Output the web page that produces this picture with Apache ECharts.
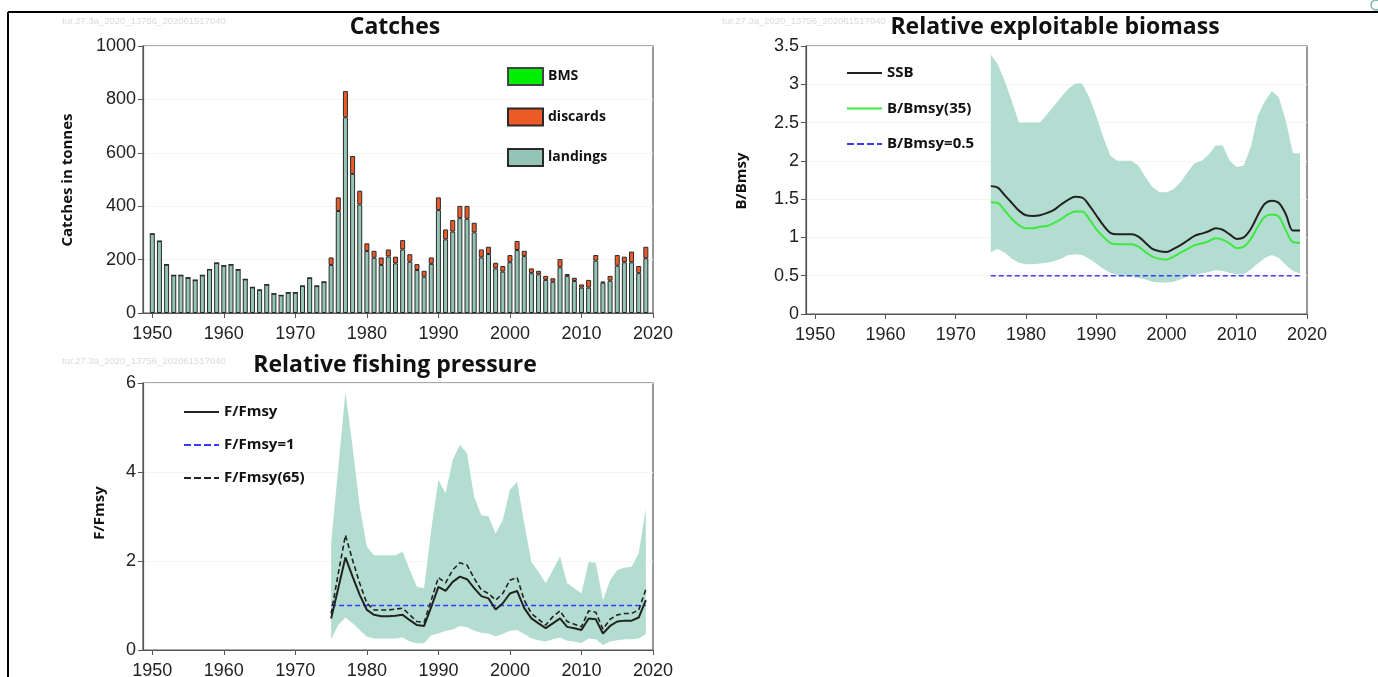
<!DOCTYPE html>
<html><head><meta charset="utf-8">
<script src="https://cdn.jsdelivr.net/npm/echarts@6/dist/echarts.min.js"></script>
<style>html,body{margin:0;padding:0;background:#fff}#c{width:1378px;height:677px}</style>
</head><body><div id="c"></div>
<script>
// ---------- DATA ----------
const catchYears = [1950,1951,1952,1953,1954,1955,1956,1957,1958,1959,1960,1961,1962,1963,1964,1965,1966,1967,1968,1969,
  1970,1971,1972,1973,1974,1975,1976,1977,1978,1979,1980,1981,1982,1983,1984,1985,1986,1987,1988,1989,
  1990,1991,1992,1993,1994,1995,1996,1997,1998,1999,2000,2001,2002,2003,2004,2005,2006,2007,2008,2009,
  2010,2011,2012,2013,2014,2015,2016,2017,2018,2019];
const landings = [296,269,181,141,141,132,123,141,163,187,177,181,162,126,96,86,106,72,66,76,
  76,101,131,101,116,180,382,733,521,406,232,207,180,212,186,238,192,161,136,184,
  386,276,305,355,353,302,208,221,167,155,190,236,213,149,145,124,117,171,139,120,
  95,95,196,114,121,177,190,190,149,205];
const discards = [0,0,0,0,0,0,0,0,0,0,0,0,0,0,0,0,0,0,0,0,
  0,0,0,0,0,28,51,98,67,52,29,26,28,26,25,35,28,22,22,24,
  47,37,43,46,48,36,30,27,21,21,27,34,20,18,13,15,13,31,7,12,
  12,29,21,3,18,40,21,40,27,43];
const bms = [];

const stockYears = [1975,1976,1977,1978,1979,1980,1981,1982,1983,1984,1985,1986,1987,1988,1989,
  1990,1991,1992,1993,1994,1995,1996,1997,1998,1999,2000,2001,2002,2003,2004,
  2005,2006,2007,2008,2009,2010,2011,2012,2013,2014,2015,2016,2017,2018,2019];
const ssb = [1.67,1.65,1.55,1.45,1.35,1.29,1.28,1.29,1.32,1.36,1.43,1.49,1.53,1.52,1.42,
  1.29,1.16,1.06,1.04,1.04,1.04,1.01,0.93,0.85,0.82,0.81,0.85,0.90,0.96,1.02,
  1.05,1.08,1.12,1.10,1.04,0.98,1.00,1.11,1.29,1.44,1.48,1.45,1.30,1.09,1.09];
const bBmsy35 = [1.46,1.45,1.35,1.24,1.16,1.12,1.12,1.14,1.15,1.19,1.24,1.30,1.34,1.34,1.24,
  1.11,1.01,0.93,0.91,0.91,0.91,0.88,0.81,0.75,0.72,0.71,0.75,0.80,0.85,0.90,
  0.92,0.95,0.99,0.97,0.92,0.86,0.88,0.98,1.14,1.27,1.30,1.27,1.09,0.94,0.93];
const bUpper = [3.39,3.26,3.04,2.78,2.50,2.50,2.50,2.50,2.61,2.72,2.83,2.94,3.01,3.01,2.83,
  2.59,2.31,2.07,2.00,2.00,2.00,1.94,1.79,1.66,1.59,1.59,1.63,1.72,1.85,1.97,
  2.00,2.08,2.20,2.20,2.00,1.92,1.94,2.18,2.59,2.78,2.91,2.83,2.52,2.10,2.10];
const bLower = [0.81,0.85,0.80,0.72,0.67,0.65,0.65,0.66,0.67,0.69,0.72,0.77,0.78,0.77,0.72,
  0.66,0.59,0.54,0.51,0.49,0.49,0.47,0.45,0.42,0.41,0.41,0.42,0.45,0.49,0.51,
  0.53,0.55,0.57,0.56,0.54,0.52,0.52,0.58,0.66,0.73,0.77,0.73,0.64,0.56,0.53];
const bRef = 0.5;

const fFmsy = [0.71,1.39,2.08,1.65,1.24,0.90,0.79,0.76,0.76,0.77,0.79,0.67,0.56,0.54,0.97,
  1.42,1.33,1.53,1.65,1.59,1.39,1.21,1.16,0.91,1.05,1.27,1.33,0.94,0.71,0.60,
  0.49,0.60,0.71,0.52,0.49,0.45,0.71,0.69,0.37,0.54,0.64,0.66,0.66,0.73,1.12];
const fFmsy65 = [0.82,1.72,2.58,2.02,1.50,1.05,0.90,0.90,0.90,0.92,0.94,0.79,0.64,0.62,1.12,
  1.63,1.51,1.80,1.96,1.91,1.61,1.35,1.27,1.12,1.27,1.57,1.63,1.12,0.82,0.69,
  0.56,0.75,0.88,0.64,0.58,0.52,0.88,0.85,0.47,0.69,0.79,0.82,0.82,0.90,1.36];
const fUpper = [2.40,4.10,5.80,4.57,3.22,2.32,2.13,2.13,2.13,2.13,2.21,1.80,1.42,1.39,2.70,
  3.82,3.52,4.27,4.61,4.42,3.44,3.03,3.00,2.62,2.92,3.60,3.78,2.85,1.98,1.76,
  1.50,1.80,2.10,1.50,1.39,1.27,1.98,1.96,1.12,1.57,1.80,1.85,1.87,2.17,3.18];
const fLower = [0.24,0.56,0.73,0.60,0.45,0.30,0.26,0.26,0.26,0.26,0.28,0.19,0.15,0.15,0.33,
  0.37,0.43,0.46,0.54,0.51,0.43,0.39,0.37,0.31,0.36,0.43,0.45,0.36,0.26,0.22,
  0.19,0.24,0.28,0.21,0.19,0.16,0.26,0.24,0.11,0.19,0.22,0.24,0.24,0.26,0.36];
const fRef = 1;

const xTicks = [1950,1960,1970,1980,1990,2000,2010,2020];
const watermark = 'tur.27.3a_2020_13756_202061517040';

// ---------- HELPERS ----------
// rows are [value, year] with encode {x:1, y:0} so that stacking happens on the value (y) dimension
const rowsYX = (xs, ys) => xs.map((x, i) => [ys[i], x]);
const ENC = { x: 1, y: 0 };
const diff = (a, b) => a.map((v, i) => +(v - b[i]).toFixed(3));
const refLine = (v) => [[v, stockYears[0]], [v, stockYears[stockYears.length - 1]]];
const NUM_FONT = 'Liberation Sans';
const BOLD_FONT = 'Open Sans';
const BAND = '#b3ddd1';
const SOLID_ICON = 'path://M0,0h35v2h-35z';
const DASH_ICON = 'path://M0,0h7v2h-7z M10,0h7v2h-7z M20,0h7v2h-7z M30,0h5v2h-5z';

function xAx(gi) {
  return {
    type: 'value', gridIndex: gi, min: 1948.7, max: 2020,
    axisLine: { show: true, onZero: false, lineStyle: { color: '#555', width: 1.2 } },
    axisTick: { show: true, length: 5, customValues: xTicks, lineStyle: { color: '#555' } },
    axisLabel: { customValues: xTicks, formatter: v => String(v), fontFamily: NUM_FONT, fontSize: 18, color: '#222', margin: 12 },
    splitLine: { show: false }
  };
}
function yAx(gi, max, interval) {
  return {
    type: 'value', gridIndex: gi, min: 0, max: max, interval: interval,
    axisLine: { show: true, lineStyle: { color: '#555', width: 1.2 } },
    axisTick: { show: true, length: 5, lineStyle: { color: '#555' } },
    axisLabel: { formatter: v => String(v), fontFamily: NUM_FONT, fontSize: 18, color: '#222', margin: 7 },
    splitLine: { show: true, lineStyle: { color: '#f4f4f4', width: 1 } }
  };
}
const gridBase = { show: true, borderColor: '#555', borderWidth: 1.2, backgroundColor: 'transparent',
  containLabel: false, outerBoundsMode: 'none' };

const legendText = (fs, lh) => ({ fontFamily: BOLD_FONT, fontWeight: 'bold', fontSize: fs, lineHeight: lh, color: '#111' });

const option = {
  animation: false,
  backgroundColor: '#fff',
  grid: [
    Object.assign({ left: 143, top: 46, width: 510, height: 267 }, gridBase),
    Object.assign({ left: 806, top: 46, width: 501, height: 268 }, gridBase),
    Object.assign({ left: 143, top: 383, width: 510, height: 267 }, gridBase)
  ],
  xAxis: [xAx(0), xAx(1), xAx(2)],
  yAxis: [yAx(0, 1000, 200), yAx(1, 3.5, 0.5), yAx(2, 6, 2)],
  legend: [
    { data: ['BMS', 'discards', 'landings'], orient: 'vertical', left: 507, top: 67, padding: 0,
      itemWidth: 35, itemHeight: 17, itemGap: 21.5, icon: 'rect', textStyle: legendText(14, 17), selectedMode: false },
    { data: [{ name: 'SSB', icon: SOLID_ICON }, { name: 'B/Bmsy(35)', icon: SOLID_ICON }, { name: 'B/Bmsy=0.5', icon: DASH_ICON }],
      orient: 'vertical', left: 847, top: 64, padding: 0,
      itemWidth: 35, itemHeight: 2.5, itemGap: 17.5, textStyle: legendText(15, 18), selectedMode: false },
    { data: [{ name: 'F/Fmsy', icon: SOLID_ICON }, { name: 'F/Fmsy=1', icon: DASH_ICON }, { name: 'F/Fmsy(65)', icon: DASH_ICON }],
      orient: 'vertical', left: 184, top: 403, padding: 0,
      itemWidth: 35, itemHeight: 2.5, itemGap: 15, textStyle: legendText(15, 18), selectedMode: false }
  ],
  series: [
    // Catches
    { name: 'landings', type: 'bar', xAxisIndex: 0, yAxisIndex: 0, stack: 'catch', barWidth: 5, encode: ENC,
      data: rowsYX(catchYears, landings), itemStyle: { color: '#93c4b5', borderColor: '#2a2a2a', borderWidth: 1 } },
    { name: 'discards', type: 'bar', xAxisIndex: 0, yAxisIndex: 0, stack: 'catch', barWidth: 5, encode: ENC,
      data: rowsYX(catchYears, discards), itemStyle: { color: '#ec5a28', borderColor: '#2a2a2a', borderWidth: 1 } },
    { name: 'BMS', type: 'bar', xAxisIndex: 0, yAxisIndex: 0, stack: 'catch', barWidth: 5, encode: ENC,
      data: bms, itemStyle: { color: '#00ee00', borderColor: '#444', borderWidth: 1 } },
    // Biomass
    { name: 'bLow', type: 'line', xAxisIndex: 1, yAxisIndex: 1, stack: 'bband', symbol: 'none', encode: ENC,
      data: rowsYX(stockYears, bLower), lineStyle: { opacity: 0 }, silent: true },
    { name: 'bBand', type: 'line', xAxisIndex: 1, yAxisIndex: 1, stack: 'bband', symbol: 'none', encode: ENC,
      data: rowsYX(stockYears, diff(bUpper, bLower)), lineStyle: { opacity: 0 },
      areaStyle: { color: BAND, opacity: 1 }, silent: true },
    { name: 'B/Bmsy=0.5', type: 'line', xAxisIndex: 1, yAxisIndex: 1, symbol: 'none', encode: ENC,
      data: refLine(bRef), lineStyle: { color: '#3a3aff', width: 1.6, type: [5, 3] }, itemStyle: { color: '#3a3aff' } },
    { name: 'SSB', type: 'line', xAxisIndex: 1, yAxisIndex: 1, symbol: 'none', smooth: 0.35, encode: ENC,
      data: rowsYX(stockYears, ssb), lineStyle: { color: '#222', width: 2 }, itemStyle: { color: '#222' } },
    { name: 'B/Bmsy(35)', type: 'line', xAxisIndex: 1, yAxisIndex: 1, symbol: 'none', smooth: 0.35, encode: ENC,
      data: rowsYX(stockYears, bBmsy35), lineStyle: { color: '#3ee83e', width: 2 }, itemStyle: { color: '#3ee83e' } },
    // Fishing pressure
    { name: 'fLow', type: 'line', xAxisIndex: 2, yAxisIndex: 2, stack: 'fband', symbol: 'none', encode: ENC,
      data: rowsYX(stockYears, fLower), lineStyle: { opacity: 0 }, silent: true },
    { name: 'fBand', type: 'line', xAxisIndex: 2, yAxisIndex: 2, stack: 'fband', symbol: 'none', encode: ENC,
      data: rowsYX(stockYears, diff(fUpper, fLower)), lineStyle: { opacity: 0 },
      areaStyle: { color: BAND, opacity: 1 }, silent: true },
    { name: 'F/Fmsy=1', type: 'line', xAxisIndex: 2, yAxisIndex: 2, symbol: 'none', encode: ENC,
      data: refLine(fRef), lineStyle: { color: '#3a3aff', width: 1.6, type: [5, 3] }, itemStyle: { color: '#3a3aff' } },
    { name: 'F/Fmsy', type: 'line', xAxisIndex: 2, yAxisIndex: 2, symbol: 'none', encode: ENC,
      data: rowsYX(stockYears, fFmsy), lineStyle: { color: '#222', width: 2 }, itemStyle: { color: '#222' } },
    { name: 'F/Fmsy(65)', type: 'line', xAxisIndex: 2, yAxisIndex: 2, symbol: 'none', encode: ENC,
      data: rowsYX(stockYears, fFmsy65), lineStyle: { color: '#222', width: 1.6, type: [5, 3] }, itemStyle: { color: '#222' } }
  ],
  graphic: [
    { type: 'line', shape: { x1: 8, y1: 12, x2: 1378, y2: 12 }, style: { stroke: '#000', lineWidth: 2 } },
    { type: 'line', shape: { x1: 8, y1: 12, x2: 8, y2: 677 }, style: { stroke: '#000', lineWidth: 2 } },
    { type: 'circle', shape: { cx: 1376, cy: 5, r: 5 }, style: { fill: 'none', stroke: '#7ab8b0', lineWidth: 1.5 } },
    { type: 'text', style: { text: watermark, x: 62, y: 21, font: '9.5px Liberation Sans', fill: '#dadada', textVerticalAlign: 'middle' } },
    { type: 'text', style: { text: watermark, x: 722, y: 21, font: '9.5px Liberation Sans', fill: '#dadada', textVerticalAlign: 'middle' } },
    { type: 'text', style: { text: watermark, x: 62, y: 361, font: '9.5px Liberation Sans', fill: '#dadada', textVerticalAlign: 'middle' } },
    { type: 'text', style: { text: 'Catches', x: 395, y: 27, font: 'bold 23px "Open Sans"', fill: '#111', textAlign: 'center', textVerticalAlign: 'middle' } },
    { type: 'text', style: { text: 'Relative exploitable biomass', x: 1055, y: 27, font: 'bold 23px "Open Sans"', fill: '#111', textAlign: 'center', textVerticalAlign: 'middle' } },
    { type: 'text', style: { text: 'Relative fishing pressure', x: 395, y: 365, font: 'bold 23px "Open Sans"', fill: '#111', textAlign: 'center', textVerticalAlign: 'middle' } },
    { type: 'text', x: 68, y: 180, rotation: Math.PI / 2, style: { text: 'Catches in tonnes', x: 0, y: 0, font: 'bold 15px "Open Sans"', fill: '#111', textAlign: 'center', textVerticalAlign: 'middle' } },
    { type: 'text', x: 742, y: 181, rotation: Math.PI / 2, style: { text: 'B/Bmsy', x: 0, y: 0, font: 'bold 15px "Open Sans"', fill: '#111', textAlign: 'center', textVerticalAlign: 'middle' } },
    { type: 'text', x: 100, y: 513, rotation: Math.PI / 2, style: { text: 'F/Fmsy', x: 0, y: 0, font: 'bold 15px "Open Sans"', fill: '#111', textAlign: 'center', textVerticalAlign: 'middle' } }
  ]
};
const chart = echarts.init(document.getElementById('c'), null, { renderer: 'canvas' });
chart.setOption(option);
</script>
</body></html>
